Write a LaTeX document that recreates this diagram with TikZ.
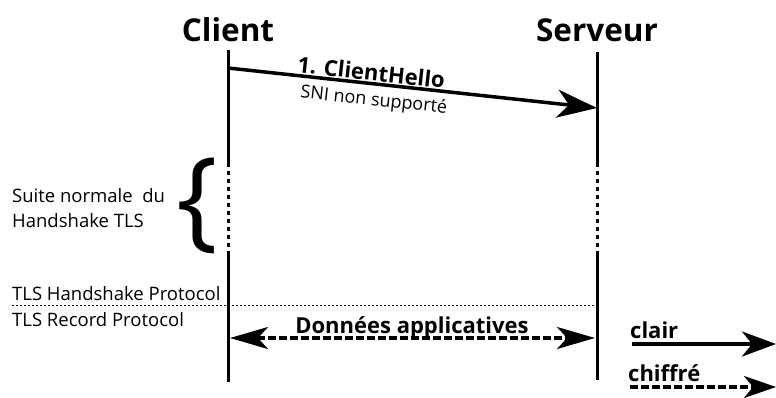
\documentclass[tikz,border=0pt]{standalone}
\usepackage{fontspec}
\setmainfont{Open Sans}
\usetikzlibrary{arrows.meta}
\begin{document}
\begin{tikzpicture}[x=1pt,y=-1pt,
  title/.style={font=\fontsize{31.5}{36}\selectfont\bfseries, inner sep=0pt},
  lifeline/.style={line width=3pt},
  dotline/.style={line width=3pt, dash pattern=on 4pt off 4pt},
  msg/.style={line width=3.5pt, -{Stealth[length=40pt,width=28pt,inset=12pt]}},
  datamsg/.style={line width=3.5pt, dash pattern=on 8pt off 3pt,
     {Stealth[length=38pt,width=22pt,inset=10pt]}-{Stealth[length=38pt,width=22pt,inset=10pt]}},
  legsolid/.style={line width=3.5pt, -{Stealth[length=34pt,width=25pt,inset=10pt]}},
  legdash/.style={line width=3.5pt, dash pattern=on 8pt off 3pt, -{Stealth[length=32pt,width=22pt,inset=9pt]}},
  bodytext/.style={font=\fontsize{18.5}{25}\selectfont, inner sep=0pt},
  smalltext/.style={font=\fontsize{18}{22}\selectfont, inner sep=0pt},
  boldlabel/.style={font=\fontsize{22}{26}\selectfont\bfseries, inner sep=0pt},
  seps/.style={line width=0.8pt, dash pattern=on 2pt off 2pt}
]
\useasboundingbox (0,0) rectangle (776,397);

% titles
\node[title] (client) at (228,30) {Client};
\node[title] (serveur) at (597,30) {Serveur};

% lifelines
\coordinate (c0) at (228,50);
\coordinate (c1) at (228,163);
\coordinate (c2) at (228,251);
\coordinate (c3) at (228,382);
\coordinate (s0) at (597,52);
\coordinate (s1) at (597,163);
\coordinate (s2) at (597,251);
\coordinate (s3) at (597,380);
\draw[lifeline] (c0) -- (c1);
\draw[dotline] (c1) -- (c2);
\draw[lifeline] (c2) -- (c3);
\draw[lifeline] (s0) -- (s1);
\draw[dotline] (s1) -- (s2);
\draw[lifeline] (s2) -- (s3);

% ClientHello message
\coordinate (m0) at (228,68);
\coordinate (m1) at (597,108);
\draw[msg] (m0) -- node[pos=0.385, sloped, above=1pt, boldlabel] (ch) {1. ClientHello}
  node[pos=0.40, sloped, below=6pt, smalltext] (sni) {SNI non supporté} (m1);

% brace and its text
\node[font=\fontsize{110}{110}\selectfont, inner sep=0pt] (brace) at (197,206) {\{};
\node[bodytext, anchor=west, align=left] (suite) at (12,208) {Suite normale\ \ du\\Handshake TLS};

% protocol layers
\node[bodytext, anchor=base west] (hsp) at (12,300) {TLS Handshake Protocol};
\node[bodytext, anchor=base west] (rp) at (12,326) {TLS Record Protocol};
\coordinate (sepL) at (12,305);
\coordinate (sepR) at (597,305);
\draw[seps] (sepL) -- (sepR);

% application data
\coordinate (d0) at (230,338);
\coordinate (d1) at (595,338);
\draw[datamsg] (d0) -- (d1);
\node[boldlabel, anchor=base] (donnees) at (412,333) {Données applicatives};

% legend
\node[boldlabel, anchor=base west] (clair) at (630,338) {clair};
\coordinate (l0) at (632,344);
\coordinate (l1) at (776,344);
\draw[legsolid] (l0) -- (l1);
\node[boldlabel, anchor=base west] (chiffre) at (628,381) {chiffré};
\coordinate (k0) at (630,387);
\coordinate (k1) at (776,387);
\draw[legdash] (k0) -- (k1);
\end{tikzpicture}
\end{document}
